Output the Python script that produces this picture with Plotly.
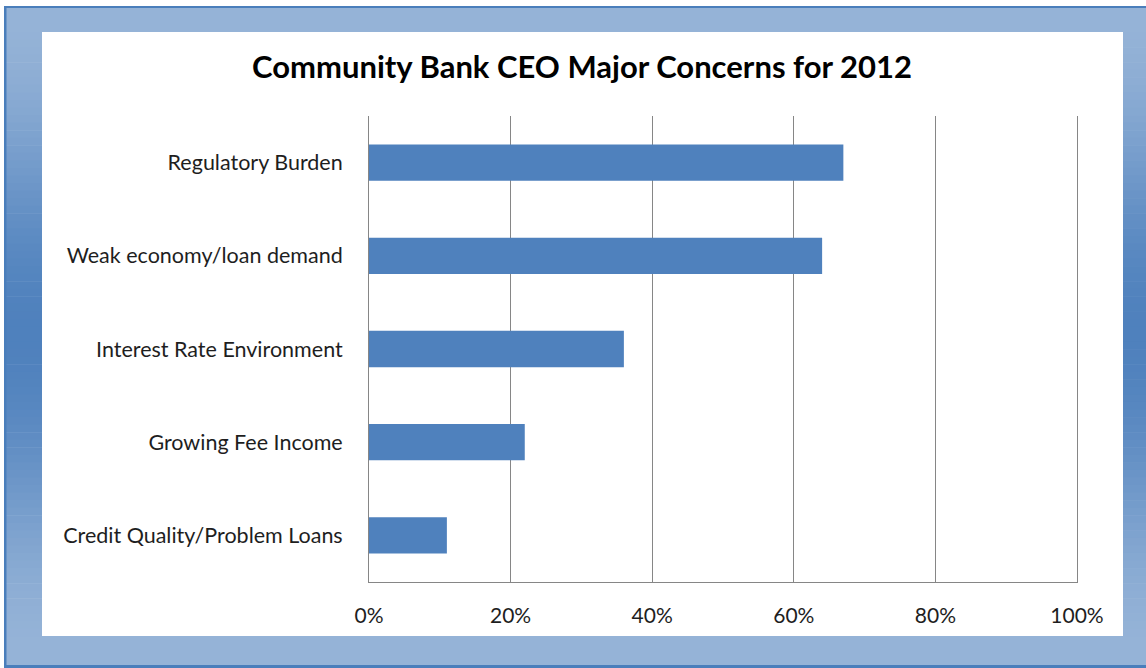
import numpy as np
import plotly.graph_objects as go

# Survey results: share of community bank CEOs naming each concern
categories = [
    "Regulatory Burden",
    "Weak economy/loan demand",
    "Interest Rate Environment",
    "Growing Fee Income",
    "Credit Quality/Problem Loans",
]
shares = [67, 64, 36, 22, 11]
x_ticks = [0, 20, 40, 60, 80, 100]
x_tick_labels = [f"{v}%" for v in x_ticks]

W, H = 1146, 668
# plot-area pixel box
L, R, T, B = 369, 1077, 116, 582

BAR = "#4f81bd"
GRID = "#868686"
FONT = "Lato"
TEXT = "#1e1e1e"


def px_x(px):
    return (px - L) / (R - L)


def px_y(py):
    return (B - py) / (B - T)


def rect(x0, y0, x1, y1, color):
    return dict(type="rect", xref="paper", yref="paper",
                x0=px_x(x0), x1=px_x(x1), y0=px_y(y1), y1=px_y(y0),
                fillcolor=color, line=dict(width=0), layer="below")


def mix(c1, c2, t):
    a = np.array([int(c1[i:i + 2], 16) for i in (1, 3, 5)])
    b = np.array([int(c2[i:i + 2], 16) for i in (1, 3, 5)])
    c = np.round(a + (b - a) * t).astype(int)
    return "#%02x%02x%02x" % tuple(c)


LIGHT = "#95b3d7"
DARK = "#4f81bd"
EDGE = "#4a7ebb"

shapes = []
# outer frame: top and bottom bands
shapes.append(rect(4, 6, W, 32, LIGHT))
shapes.append(rect(4, 636, W, 668, LIGHT))
# side bands, shaded darker toward the vertical middle
n = 80
y_top, y_bot = 32, 636
for i in range(n):
    y0 = y_top + (y_bot - y_top) * i / n
    y1 = y_top + (y_bot - y_top) * (i + 1) / n + 0.6
    yc = (y0 + y1) / 2
    t = np.sin(np.pi * (yc - 8) / (660 - 8)) ** 2.0
    col = mix(LIGHT, DARK, t)
    shapes.append(rect(4, y0, 42, y1, col))
    shapes.append(rect(1123, y0, W, y1, col))
# thin darker edges
shapes.append(rect(4, 6, W, 8, EDGE))
shapes.append(rect(4, 6, 6.5, 667, EDGE))
shapes.append(rect(4, 665, W, 668, EDGE))

fig = go.Figure(
    go.Bar(
        x=shares,
        y=categories,
        orientation="h",
        marker=dict(color=BAR, line=dict(width=0)),
        width=0.39,
        hoverinfo="x+y",
    )
)

fig.update_layout(
    width=W,
    height=H,
    margin=dict(l=L, r=W - R, t=T, b=H - B, pad=0),
    paper_bgcolor="white",
    plot_bgcolor="white",
    showlegend=False,
    shapes=shapes,
    title=dict(
        text="<b>Community Bank CEO Major Concerns for 2012</b>",
        x=(42 + 1122) / 2 / W,
        xanchor="center",
        y=1 - 67 / H,
        yanchor="middle",
        font=dict(family=FONT, size=31, color="#000000"),
    ),
    font=dict(family=FONT, size=21, color=TEXT),
)

fig.update_xaxes(
    range=[0, 100],
    tickvals=x_ticks,
    ticktext=x_tick_labels,
    showgrid=True,
    gridcolor=GRID,
    gridwidth=1,
    showline=True,
    linecolor=GRID,
    linewidth=1,
    zeroline=False,
    ticks="",
    ticklabelstandoff=15,
    tickfont=dict(family=FONT, size=21, color=TEXT),
    fixedrange=True,
)

fig.update_yaxes(
    categoryorder="array",
    categoryarray=categories[::-1],
    showgrid=False,
    showline=True,
    mirror=True,
    linecolor=GRID,
    linewidth=1,
    ticks="",
    ticklabelstandoff=21,
    tickfont=dict(family=FONT, size=21.5, color=TEXT),
    fixedrange=True,
)

fig.write_html("out.html")
